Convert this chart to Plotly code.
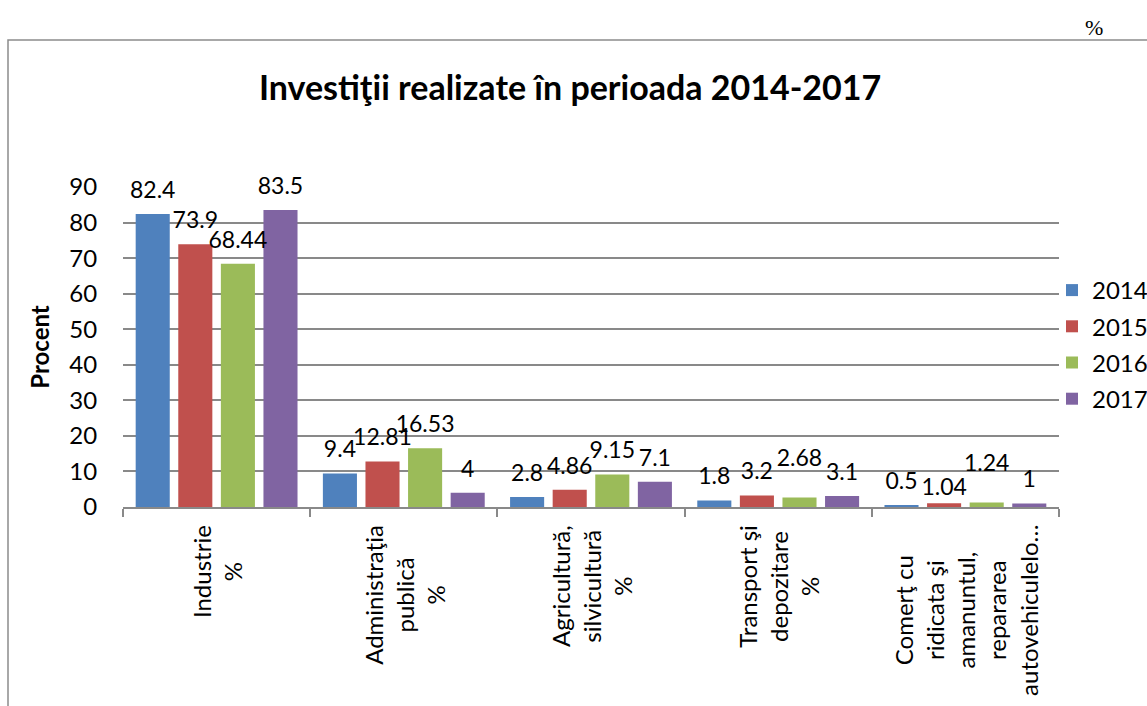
import plotly.graph_objects as go

categories = ['Industrie<br>%',
              'Administraţia<br>publică<br>%',
              'Agricultură,<br>silvicultură<br>%',
              'Transport şi<br>depozitare<br>%',
              'Comerţ cu<br>ridicata şi<br>amanuntul,<br>repararea<br>autovehiculelo…']
years = ['2014', '2015', '2016', '2017']
v2014 = [82.4, 9.4, 2.8, 1.8, 0.5]
v2015 = [73.9, 12.81, 4.86, 3.2, 1.04]
v2016 = [68.44, 16.53, 9.15, 2.68, 1.24]
v2017 = [83.5, 4, 7.1, 3.1, 1]
y_ticks = [0, 10, 20, 30, 40, 50, 60, 70, 80, 90]

colours = ['#4F81BD', '#C0504D', '#9BBB59', '#8064A2']
FONT = 'Lato'
GRID = '#898989'

# extra lift (px) of a few value labels that Excel staggered to avoid overlaps
label_lift = [[0, 0, 0, 0, 0],
              [0, 0, 0, 0, -8],
              [0, 0, 0, 15, 15],
              [0, 0, 0, 0, 0]]

# plot area in pixels (used only for layout / decoration placement)
W, H = 1147, 706
L, R, T, B = 123, 88, 187, 199
pw, ph = W - L - R, H - T - B


def px_x(px):
    return (px - L) / pw


def px_y(py):
    return (H - B - py) / ph


fig = go.Figure()

series = [v2014, v2015, v2016, v2017]
for yr, vals, col in zip(years, series, colours):
    fig.add_trace(go.Bar(
        x=categories, y=vals, name=yr, marker_color=col,
        marker_line_width=0, legendgroup=yr, hoverinfo='skip'
    ))

# value labels, grouped like the bars, lifted by an invisible marker
for yr, vals, lift in zip(years, series, label_lift):
    sizes = [15 + 1.6 * d for d in lift]
    fig.add_trace(go.Scatter(
        x=categories, y=vals, mode='markers+text', orientation='v',
        texttemplate='%{y}', textposition='top center',
        textfont=dict(family=FONT, size=23, color='black'),
        marker=dict(size=sizes, opacity=0), cliponaxis=False,
        showlegend=False, hoverinfo='skip'
    ))

# rotated category labels, lines centred on each other
for cat in categories:
    fig.add_annotation(
        x=cat, y=0, xref='x', yref='y', text=cat, showarrow=False,
        textangle=-90, align='center', yanchor='top', xanchor='center',
        yshift=-16, font=dict(family=FONT, size=24, color='black')
    )

fig.add_annotation(
    x=px_x(1094), y=px_y(27), xref='paper', yref='paper', text='%',
    xanchor='center', yanchor='middle', showarrow=False,
    font=dict(family='Liberation Serif', size=22, color='black')
)

# chart border
fig.add_shape(type='rect', xref='paper', yref='paper',
              x0=px_x(8), x1=px_x(1200), y0=px_y(760), y1=px_y(40),
              line=dict(color='#8c8c8c', width=1.5), layer='below')

fig.update_layout(
    width=W, height=H,
    margin=dict(l=L, r=R, t=T, b=B, autoexpand=False),
    paper_bgcolor='white', plot_bgcolor='white',
    barmode='group', bargap=0.09, bargroupgap=0.2,
    scattermode='group', scattergap=0.09,
    title=dict(text='<b>Investiţii realizate în perioada 2014-2017</b>',
               x=0.497, xanchor='center', y=1 - 88 / H, yanchor='middle',
               yref='container',
               font=dict(family=FONT, size=34, color='black')),
    font=dict(family=FONT, color='black'),
    legend=dict(x=px_x(1052), xanchor='left', y=px_y(268), yanchor='top',
                font=dict(family=FONT, size=24, color='black'),
                tracegroupgap=2, bgcolor='rgba(0,0,0,0)'),
    showlegend=True,
)

fig.update_xaxes(
    type='category', showticklabels=False, showgrid=False,
    showline=True, linecolor=GRID, linewidth=1.5,
    ticks='outside', tickson='boundaries', ticklen=8, tickcolor=GRID,
    tickwidth=1.5
)
fig.update_yaxes(
    range=[0, 90], tickvals=y_ticks, showgrid=True, gridcolor=GRID,
    gridwidth=1.5, zeroline=False, showline=False,
    ticks='outside', ticklen=20, tickcolor='rgba(0,0,0,0)',
    tickfont=dict(family=FONT, size=24, color='black'),
    title=dict(text='<b>Procent</b>', standoff=12,
               font=dict(family=FONT, size=24, color='black'))
)

# the page's default body margin would shift the whole figure
fig.write_html('out.html', config={'displayModeBar': False},
               post_script="document.body.style.margin='0';"
                           "document.body.style.overflow='hidden';")
